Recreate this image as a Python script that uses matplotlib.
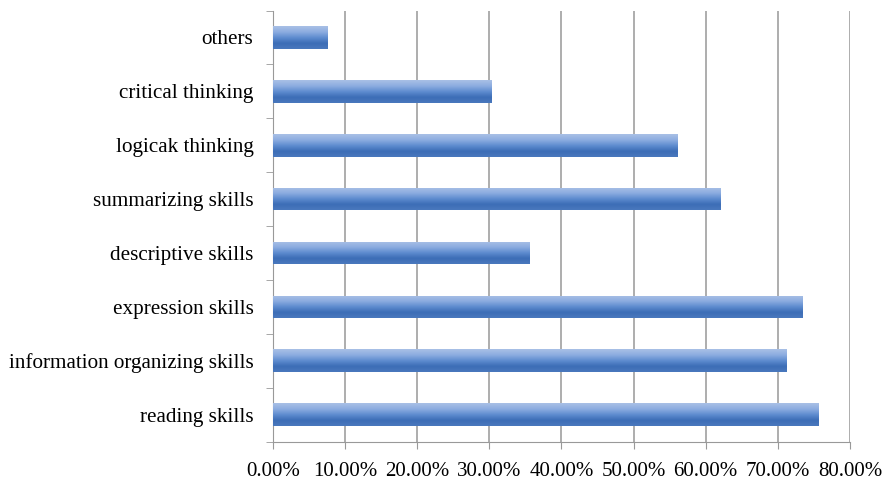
import numpy as np
import matplotlib.pyplot as plt
from matplotlib.colors import LinearSegmentedColormap

# dados (de baixo para cima)
categorias = ['reading skills', 'information organizing skills', 'expression skills',
              'descriptive skills', 'summarizing skills', 'logicak thinking',
              'critical thinking', 'others']
valores = [75.7, 71.2, 73.4, 35.5, 62.1, 56.1, 30.3, 7.6]
ticks_x = [0, 10, 20, 30, 40, 50, 60, 70, 80]

plt.rcParams['font.family'] = ['Liberation Serif', 'DejaVu Serif']

fig = plt.figure(figsize=(8.89, 4.8), dpi=100)
ax = fig.add_axes([0.307, 0.08, 0.649, 0.898])

y = np.arange(len(categorias))
barras = ax.barh(y, valores, height=0.42, color='#5583c8', zorder=3)

# gradiente vertical em cada barra (claro em cima, escuro embaixo)
grad = LinearSegmentedColormap.from_list('g', ['#a9c0e6', '#8dade0', '#5f8dd0', '#3c6db6', '#4a78bd'])
g = np.linspace(0, 1, 64).reshape(-1, 1)
for b in barras:
    x0, y0 = b.get_x(), b.get_y()
    im = ax.imshow(g, cmap=grad, aspect='auto', zorder=3,
                   extent=[x0, x0 + b.get_width(), y0, y0 + b.get_height()],
                   interpolation='bicubic')
    im.set_clip_path(b)

ax.set_xlim(0, 80)
ax.set_ylim(-0.5, len(categorias) - 0.5)
ax.set_xticks(ticks_x)
ax.set_xticklabels(['%.2f%%' % t for t in ticks_x], fontsize=15)
ax.set_yticks(y)
ax.set_yticklabels(categorias, fontsize=15.2)
ax.set_yticks(np.arange(-0.5, len(categorias), 1), minor=True)
ax.tick_params(axis='y', which='major', length=0, pad=14)
ax.tick_params(axis='y', which='minor', length=5, color='#999999')
ax.tick_params(axis='x', length=5, color='#999999', pad=10)

ax.grid(axis='x', color='#a0a0a0', linewidth=1.2, zorder=0)
for s in ['top', 'right']:
    ax.spines[s].set_visible(False)
ax.spines['left'].set_color('#999999')
ax.spines['bottom'].set_color('#999999')

plt.savefig('out.png', dpi=100)
